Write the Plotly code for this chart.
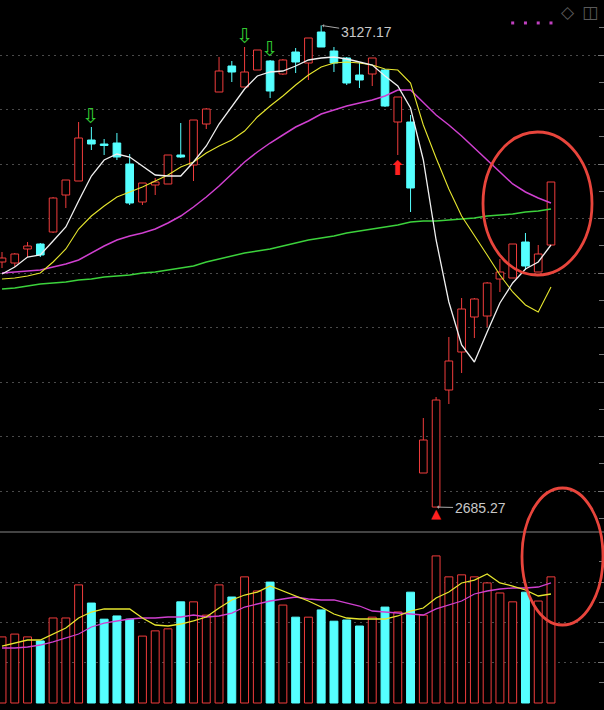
import plotly.graph_objects as go

# ---------------- data ----------------
idx = list(range(44))

opens = [2910.09, 2909.18, 2922.02, 2926.61, 2937.62, 2971.56, 2984.40, 3022.02, 3018.35, 3019.27,
         3000.00, 2965.14, 2980.74, 2981.65, 3008.26, 2999.08, 3036.70, 3066.06, 3089.91, 3070.64,
         3086.24, 3094.50, 3082.57, 3102.75, 3092.66, 3121.10, 3103.67, 3097.25, 3081.65, 3082.57,
         3086.24, 3038.53, 3038.53, 2716.52, 2685.27, 2792.66, 2827.53, 2859.63, 2860.55, 2894.50,
         2895.41, 2928.44, 2900.92, 2925.69]
highs = [2919.27, 2918.35, 2928.44, 2927.53, 2969.73, 2985.32, 3038.53, 3033.95, 3022.94, 3028.44,
         3009.18, 2982.57, 2987.16, 3008.26, 3037.62, 3040.37, 3051.38, 3098.17, 3094.50, 3107.34,
         3104.59, 3095.41, 3096.33, 3106.42, 3115.60, 3127.17, 3107.34, 3098.17, 3092.66, 3097.25,
         3087.16, 3061.47, 3044.96, 2766.97, 2786.24, 2841.29, 2877.07, 2877.07, 2891.74, 2912.85,
         2926.61, 2936.70, 2925.69, 2983.49]
lows = [2904.59, 2905.51, 2914.68, 2914.68, 2936.70, 2959.63, 2984.40, 3012.85, 3008.26, 3003.67,
        2962.39, 2962.39, 2971.56, 2981.65, 3005.51, 2984.40, 3032.11, 3066.06, 3075.23, 3070.64,
        3086.24, 3060.55, 3081.65, 3083.49, 3077.07, 3107.34, 3084.41, 3072.48, 3069.73, 3071.56,
        3052.29, 3008.26, 2955.96, 2716.52, 2685.27, 2779.82, 2808.26, 2840.37, 2850.46, 2882.57,
        2895.41, 2902.75, 2900.92, 2925.69]
closes = [2913.76, 2917.43, 2924.77, 2916.51, 2968.81, 2985.32, 3023.85, 3018.35, 3017.00, 3006.42,
          2964.22, 2982.57, 2983.49, 3008.26, 3006.42, 3040.37, 3050.46, 3085.32, 3084.41, 3084.41,
          3104.59, 3066.97, 3095.41, 3093.58, 3115.60, 3107.34, 3092.66, 3074.31, 3077.07, 3097.25,
          3053.21, 3061.47, 2977.98, 2746.79, 2783.49, 2819.27, 2866.97, 2876.15, 2890.83, 2900.92,
          2926.61, 2906.42, 2917.43, 2983.49]

ma5 = [2899.08, 2905.51, 2914.68, 2916.51, 2929.36, 2942.20, 2966.06, 2988.99, 3003.67, 3009.18,
       3006.42, 2998.17, 2989.91, 2988.99, 2988.99, 3001.84, 3016.52, 3036.70, 3053.21, 3068.81,
       3080.74, 3084.41, 3085.32, 3089.91, 3095.41, 3097.25, 3098.17, 3096.33, 3093.58, 3090.83,
       3080.74, 3071.56, 3051.38, 3003.67, 2930.28, 2873.40, 2833.95, 2818.35, 2845.87, 2872.48,
       2890.83, 2903.67, 2910.09, 2925.69]
ma10 = [2894.50, 2895.41, 2897.25, 2900.00, 2910.09, 2922.02, 2940.37, 2952.29, 2961.47, 2969.73,
        2974.31, 2978.90, 2984.40, 2989.91, 2997.25, 3001.84, 3010.09, 3016.52, 3022.02, 3030.28,
        3043.12, 3053.21, 3062.39, 3072.48, 3081.65, 3088.99, 3092.66, 3093.58, 3092.66, 3090.83,
        3087.16, 3086.24, 3074.31, 3035.78, 3005.51, 2977.07, 2952.29, 2934.86, 2916.51, 2898.17,
        2882.57, 2870.64, 2864.22, 2887.16]
ma20 = [2900.00, 2900.92, 2901.84, 2902.75, 2905.51, 2908.26, 2911.93, 2918.35, 2924.77, 2930.28,
        2933.95, 2936.70, 2940.37, 2945.87, 2952.29, 2960.55, 2969.73, 2979.82, 2990.83, 3001.84,
        3011.01, 3019.27, 3026.61, 3033.95, 3039.45, 3045.87, 3049.54, 3053.21, 3055.96, 3058.72,
        3062.39, 3067.89, 3067.89, 3055.96, 3044.96, 3035.78, 3025.69, 3014.68, 3003.67, 2992.66,
        2981.65, 2974.31, 2968.81, 2964.22]
ma60 = [2885.32, 2886.24, 2888.08, 2889.91, 2890.83, 2891.74, 2893.58, 2894.50, 2896.33, 2897.25,
        2898.17, 2900.00, 2900.92, 2902.75, 2904.59, 2906.42, 2910.09, 2912.85, 2915.60, 2918.35,
        2920.19, 2922.02, 2924.77, 2927.53, 2930.28, 2932.11, 2933.95, 2936.70, 2938.53, 2940.37,
        2942.20, 2944.04, 2946.79, 2947.71, 2947.71, 2948.63, 2949.54, 2950.46, 2952.29, 2953.21,
        2954.13, 2955.96, 2956.88, 2958.72]

volume = [1.64, 1.71, 1.64, 1.54, 2.11, 2.11, 2.93, 2.48, 2.08, 2.16,
          2.08, 1.66, 1.79, 1.84, 2.51, 2.51, 2.18, 2.93, 2.63, 3.13,
          2.78, 3.00, 2.43, 2.13, 2.13, 2.31, 2.03, 2.06, 1.91, 2.13,
          2.38, 2.26, 2.75, 2.18, 3.65, 3.13, 3.18, 3.13, 2.98, 2.73,
          2.51, 2.75, 2.53, 3.13]
vol_ma5 = [1.414, 1.489, 1.563, 1.563, 1.712, 1.861, 2.109, 2.258, 2.333, 2.333,
           2.333, 2.109, 1.935, 1.911, 1.960, 2.035, 2.134, 2.357, 2.556, 2.680,
           2.754, 2.903, 2.779, 2.655, 2.531, 2.382, 2.208, 2.109, 2.084, 2.084,
           2.084, 2.159, 2.283, 2.357, 2.605, 2.754, 2.978, 3.052, 3.201, 2.978,
           2.903, 2.804, 2.655, 2.705]
vol_ma10 = [1.365, 1.365, 1.390, 1.439, 1.514, 1.613, 1.712, 1.886, 1.985, 2.035,
            2.084, 2.109, 2.109, 2.134, 2.134, 2.184, 2.134, 2.159, 2.233, 2.382,
            2.457, 2.531, 2.581, 2.630, 2.581, 2.556, 2.556, 2.481, 2.407, 2.283,
            2.258, 2.233, 2.208, 2.184, 2.333, 2.432, 2.531, 2.705, 2.779, 2.829,
            2.854, 2.854, 2.878, 2.978]

sell_signal_idx = [7, 19, 21]
buy_signal_idx = [31]
dot_signal_idx = [40, 41, 42, 43]
dot_signal_level = 3129.4

# ---------------- style ----------------
RED = "#f03c3c"
CYAN = "#55ffff"
BG = "#000000"
GRID = "#4a4a4a"
TICK = "#777777"

up = [i for i in idx if closes[i] >= opens[i]]
dn = [i for i in idx if closes[i] < opens[i]]


def wicks(sel):
    xs, ys = [], []
    for i in sel:
        top = max(opens[i], closes[i])
        bot = min(opens[i], closes[i])
        xs += [i, i, None, i, i, None]
        ys += [highs[i], top, None, bot, lows[i], None]
    return xs, ys


fig = go.Figure()

# candle bodies
fig.add_trace(go.Bar(x=up, y=[closes[i] - opens[i] for i in up], base=[opens[i] for i in up],
                     width=0.6, marker=dict(color=BG, line=dict(color=RED, width=1)),
                     xaxis="x", yaxis="y", hoverinfo="skip"))
fig.add_trace(go.Bar(x=dn, y=[closes[i] - opens[i] for i in dn], base=[opens[i] for i in dn],
                     width=0.6, marker=dict(color=CYAN, line=dict(color=CYAN, width=1)),
                     xaxis="x", yaxis="y", hoverinfo="skip"))
wx, wy = wicks(up)
fig.add_trace(go.Scatter(x=wx, y=wy, mode="lines", line=dict(color=RED, width=1),
                         xaxis="x", yaxis="y", hoverinfo="skip"))
wx, wy = wicks(dn)
fig.add_trace(go.Scatter(x=wx, y=wy, mode="lines", line=dict(color=CYAN, width=1),
                         xaxis="x", yaxis="y", hoverinfo="skip"))

# moving averages
for series, color, w in [(ma60, "#3cd23c", 1.5), (ma20, "#d040d0", 1.5),
                         (ma10, "#e6e62e", 1.1), (ma5, "#f0f0f0", 1.3)]:
    fig.add_trace(go.Scatter(x=idx, y=series, mode="lines", line=dict(color=color, width=w),
                             xaxis="x", yaxis="y", hoverinfo="skip"))

# signal dots
fig.add_trace(go.Scatter(x=dot_signal_idx, y=[dot_signal_level] * len(dot_signal_idx), mode="markers",
                         marker=dict(symbol="square", size=3, color="#c040c0"),
                         xaxis="x", yaxis="y", hoverinfo="skip"))

# volume
fig.add_trace(go.Bar(x=up, y=[volume[i] for i in up], width=0.62,
                     marker=dict(color=BG, line=dict(color=RED, width=1)),
                     xaxis="x2", yaxis="y2", hoverinfo="skip"))
fig.add_trace(go.Bar(x=dn, y=[volume[i] for i in dn], width=0.62,
                     marker=dict(color=CYAN, line=dict(color=CYAN, width=1)),
                     xaxis="x2", yaxis="y2", hoverinfo="skip"))
fig.add_trace(go.Scatter(x=idx, y=vol_ma10, mode="lines", line=dict(color="#d040d0", width=1.3),
                         xaxis="x2", yaxis="y2", hoverinfo="skip"))
fig.add_trace(go.Scatter(x=idx, y=vol_ma5, mode="lines", line=dict(color="#e6e62e", width=1.3),
                         xaxis="x2", yaxis="y2", hoverinfo="skip"))

# ---------------- annotations ----------------
hi_i = highs.index(max(highs))
lo_i = lows.index(min(lows))
ann = []
txt_font = dict(family="Liberation Sans, Arial", size=14, color="#c8c8c8")
ann.append(dict(x=hi_i, y=highs[hi_i], xref="x", yref="y", text=f"{highs[hi_i]:.2f}",
                showarrow=True, ax=45, ay=7, arrowhead=1, arrowsize=0.6, arrowwidth=1,
                arrowcolor="#aaaaaa", standoff=1, font=txt_font))
ann.append(dict(x=lo_i, y=lows[lo_i], xref="x", yref="y", text=f"{lows[lo_i]:.2f}",
                showarrow=True, ax=44, ay=1, arrowhead=1, arrowsize=0.6, arrowwidth=1,
                arrowcolor="#aaaaaa", standoff=1, font=txt_font))
ann.append(dict(x=lo_i, y=lows[lo_i], xref="x", yref="y", text="▲", showarrow=False,
                yanchor="top", yshift=3, font=dict(family="DejaVu Sans", size=13, color="#ff2020")))
for i in sell_signal_idx:
    ann.append(dict(x=i, y=highs[i], xref="x", yref="y", text="⇩", showarrow=False,
                    xanchor="center", yanchor="bottom", yshift=-3,
                    font=dict(family="DejaVu Sans", size=21, color="#32c832")))
for i in buy_signal_idx:
    ann.append(dict(x=i, y=lows[i], xref="x", yref="y", text="⬆", showarrow=False,
                    xanchor="center", yanchor="top", yshift=1,
                    font=dict(family="DejaVu Sans", size=20, color="#ff2020")))
ann.append(dict(x=568 / 604, y=1 - 12 / 710, xref="paper", yref="paper", text="◇", showarrow=False,
                xanchor="center", yanchor="middle",
                font=dict(family="DejaVu Sans", size=17, color="#5a5a5a")))
ann.append(dict(x=590 / 604, y=1 - 12 / 710, xref="paper", yref="paper", text="◫", showarrow=False,
                xanchor="center", yanchor="middle",
                font=dict(family="DejaVu Sans", size=17, color="#5a5a5a")))

shapes = [
    dict(type="line", xref="paper", yref="paper", x0=0, x1=1, y0=1 - 532 / 710, y1=1 - 532 / 710,
         line=dict(color="#5a5a5a", width=1.5)),
    dict(type="circle", xref="paper", yref="paper", x0=483 / 604, x1=592 / 604,
         y0=1 - 275 / 710, y1=1 - 132 / 710, line=dict(color="#e8453c", width=2.8)),
    dict(type="circle", xref="paper", yref="paper", x0=522 / 604, x1=603 / 604,
         y0=1 - 625 / 710, y1=1 - 488 / 710, line=dict(color="#e8453c", width=2.8)),
]

xr = [-0.1567, 47.152]
fig.update_layout(
    width=604, height=710, margin=dict(l=0, r=0, t=0, b=0),
    paper_bgcolor=BG, plot_bgcolor=BG, barmode="overlay", showlegend=False,
    xaxis=dict(domain=[0, 1], range=xr, visible=False, anchor="y"),
    xaxis2=dict(domain=[0, 1], range=xr, visible=False, anchor="y2"),
    yaxis=dict(domain=[1 - 532 / 710, 1], range=[2662.39, 3150.46], side="right",
               tick0=2700, dtick=50, showticklabels=False, ticks="inside", ticklen=6,
               tickcolor=TICK, showgrid=True, gridcolor=GRID, griddash="2px,4px", gridwidth=1,
               zeroline=False, showline=False,
               minor=dict(dtick=25, ticks="inside", ticklen=5, tickcolor=TICK, showgrid=False)),
    yaxis2=dict(domain=[0, 1 - 533 / 710], range=[-0.1737, 4.2184], side="right",
                tickmode="array", tickvals=[1, 2, 3], showticklabels=False, ticks="inside",
                ticklen=6, tickcolor=TICK, showgrid=True, gridcolor=GRID, griddash="2px,4px",
                zeroline=False, showline=False,
                minor=dict(tickvals=[0.5, 1.5, 2.5, 3.5], ticks="inside", ticklen=5,
                           tickcolor=TICK, showgrid=False)),
    annotations=ann, shapes=shapes,
)

fig.write_html("out.html", config={"displayModeBar": False},
               post_script="document.body.style.margin='0';document.body.style.background='#000';")
